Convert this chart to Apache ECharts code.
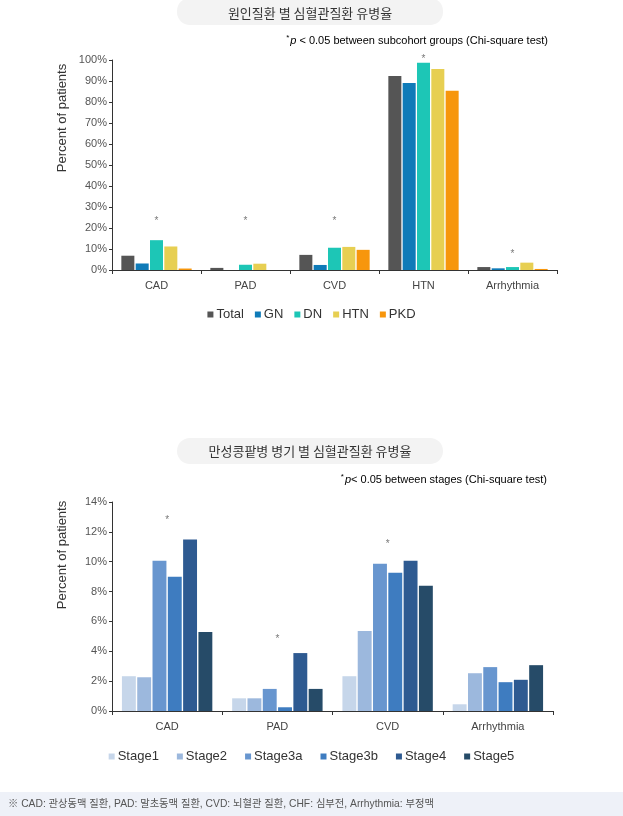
<!DOCTYPE html>
<html>
<head>
<meta charset="utf-8">
<script src="https://cdn.jsdelivr.net/npm/echarts@6/dist/echarts.min.js"></script>
<style>
html,body{margin:0;padding:0;background:#fff;}
#main{width:623px;height:816px;}
</style>
</head>
<body>
<div id="main"></div>
<script>
// ---- Data ----
var categoriesTop = ['CAD', 'PAD', 'CVD', 'HTN', 'Arrhythmia'];
var seriesNamesTop = ['Total', 'GN', 'DN', 'HTN', 'PKD'];
var totalVals = [6.8, 1.0, 7.2, 92.4, 1.4];
var gnVals    = [3.1, 0.0, 2.4, 89.0, 0.8];
var dnVals    = [14.2, 2.5, 10.6, 98.7, 1.4];
var htnVals   = [11.2, 3.0, 11.0, 95.7, 3.5];
var pkdVals   = [0.7, 0.0, 9.6, 85.4, 0.5];
var starsTop  = [24.8, 24.8, 24.8, 101.6, 8.7];
var yTicksTop = { min: 0, max: 100, interval: 10 };

var categoriesBot = ['CAD', 'PAD', 'CVD', 'Arrhythmia'];
var seriesNamesBot = ['Stage1', 'Stage2', 'Stage3a', 'Stage3b', 'Stage4', 'Stage5'];
var stage1Vals  = [2.33, 0.85, 2.33, 0.45];
var stage2Vals  = [2.26, 0.85, 5.36, 2.53];
var stage3aVals = [10.07, 1.48, 9.87, 2.94];
var stage3bVals = [8.99, 0.25, 9.26, 1.93];
var stage4Vals  = [11.48, 3.88, 10.07, 2.09];
var stage5Vals  = [5.29, 1.48, 8.39, 3.07];
var starsBot    = [13.0, 5.0, 11.4, '-'];
var yTicksBot = { min: 0, max: 14, interval: 2 };

// ---- Styles ----
var colorsTop = ['#555555', '#0f7bb8', '#1dc6b6', '#e7cf52', '#f7960c'];
var colorsBot = ['#c6d6ea', '#9cb8dd', '#6896cf', '#3e7cc0', '#2e5a91', '#264b68'];
var FONT = '"Liberation Sans", Arial, "Noto Sans CJK KR", sans-serif';
var KFONT = '"Noto Sans CJK KR", "Liberation Sans", sans-serif';

var topData = [totalVals, gnVals, dnVals, htnVals, pkdVals];
var botData = [stage1Vals, stage2Vals, stage3aVals, stage3bVals, stage4Vals, stage5Vals];

var starLabel = { show: true, position: 'inside', formatter: '*', color: '#555', fontSize: 10, fontFamily: FONT, offset: [0, 3] };

var series = [];
seriesNamesTop.forEach(function (n, i) {
  series.push({
    name: n, type: 'bar', xAxisIndex: 0, yAxisIndex: 0,
    data: topData[i], barGap: '10%', barCategoryGap: '21%',
    itemStyle: { color: colorsTop[i] }
  });
});
series.push({
  name: 'starsTop', type: 'scatter', xAxisIndex: 0, yAxisIndex: 0,
  data: starsTop, symbol: 'circle', symbolSize: 2, clip: false,
  itemStyle: { color: 'rgba(0,0,0,0)' },
  label: starLabel, z: 5, silent: true
});
seriesNamesBot.forEach(function (n, i) {
  series.push({
    name: n, type: 'bar', xAxisIndex: 1, yAxisIndex: 1,
    data: botData[i], barGap: '10%', barCategoryGap: '18%',
    itemStyle: { color: colorsBot[i] }
  });
});
series.push({
  name: 'starsBot', type: 'scatter', xAxisIndex: 1, yAxisIndex: 1,
  data: starsBot, symbol: 'circle', symbolSize: 2, clip: false,
  itemStyle: { color: 'rgba(0,0,0,0)' },
  label: starLabel, z: 5, silent: true
});

function xAxisCfg(cats, grid) {
  return {
    type: 'category', gridIndex: grid, data: cats,
    axisLine: { lineStyle: { color: '#333', width: 1 } },
    axisTick: { show: true, length: 4, lineStyle: { color: '#333' } },
    axisLabel: { color: '#444', fontSize: 11, margin: 10, fontFamily: FONT },
    splitLine: { show: false }
  };
}
function yAxisCfg(t, grid) {
  return {
    type: 'value', gridIndex: grid, min: t.min, max: t.max, interval: t.interval,
    axisLine: { show: true, lineStyle: { color: '#333', width: 1 } },
    axisTick: { show: true, length: 3, lineStyle: { color: '#333' } },
    axisLabel: { color: '#555', fontSize: 11, margin: 5, fontFamily: FONT, formatter: '{value}%' },
    splitLine: { show: false }
  };
}

var subRich = {
  s: { fontSize: 8, color: '#333', fontFamily: FONT, verticalAlign: 'top', padding: [0, 1, 6, 0] },
  i: { fontSize: 11, color: '#333', fontStyle: 'italic', fontFamily: FONT },
  t: { fontSize: 11, color: '#333', fontFamily: FONT }
};

var option = {
  backgroundColor: '#fff',
  animation: false,
  grid: [
    { left: 112, right: 66, top: 60, height: 210 },
    { left: 112, right: 70, top: 502, height: 209 }
  ],
  xAxis: [xAxisCfg(categoriesTop, 0), xAxisCfg(categoriesBot, 1)],
  yAxis: [yAxisCfg(yTicksTop, 0), yAxisCfg(yTicksBot, 1)],
  legend: [
    {
      data: seriesNamesTop, top: 303, left: 'center', icon: 'rect',
      itemWidth: 6, itemHeight: 6, itemGap: 11,
      textStyle: { fontSize: 13, color: '#333', fontFamily: FONT, padding: [0, 0, 0, -2] }
    },
    {
      data: seriesNamesBot, top: 745, left: 'center', icon: 'rect',
      itemWidth: 6, itemHeight: 6, itemGap: 18,
      textStyle: { fontSize: 13, color: '#333', fontFamily: FONT, padding: [0, 0, 0, -2] }
    }
  ],
  graphic: [
    { type: 'rect', shape: { x: 177, y: -2, width: 266, height: 27, r: 13 }, style: { fill: '#f3f3f3' }, silent: true },
    { type: 'text', x: 310, y: 13, style: { text: '원인질환 별 심혈관질환 유병율', fontSize: 13, fill: '#333', fontFamily: KFONT, align: 'center', verticalAlign: 'middle' } },
    { type: 'text', x: 548, y: 41, style: { text: '{s|*}{i|p}{t| < 0.05 between subcohort groups (Chi-square test)}', rich: subRich, align: 'right', verticalAlign: 'middle' } },
    { type: 'text', x: 62, y: 118, rotation: Math.PI / 2, style: { text: 'Percent of patients', fontSize: 13, fill: '#333', fontFamily: FONT, align: 'center', verticalAlign: 'middle' } },

    { type: 'rect', shape: { x: 177, y: 438, width: 266, height: 26, r: 13 }, style: { fill: '#f3f3f3' }, silent: true },
    { type: 'text', x: 310, y: 451, style: { text: '만성콩팥병 병기 별 심혈관질환 유병율', fontSize: 13, fill: '#333', fontFamily: KFONT, align: 'center', verticalAlign: 'middle' } },
    { type: 'text', x: 547, y: 480, style: { text: '{s|*}{i|p}{t|< 0.05 between stages (Chi-square test)}', rich: subRich, align: 'right', verticalAlign: 'middle' } },
    { type: 'text', x: 62, y: 555, rotation: Math.PI / 2, style: { text: 'Percent of patients', fontSize: 13, fill: '#333', fontFamily: FONT, align: 'center', verticalAlign: 'middle' } },

    { type: 'rect', shape: { x: 0, y: 792, width: 623, height: 24 }, style: { fill: '#eef1f8' }, silent: true },
    { type: 'text', x: 8, y: 804, style: { text: '※ CAD: 관상동맥 질환, PAD: 말초동맥 질환, CVD: 뇌혈관 질환, CHF: 심부전, Arrhythmia: 부정맥', fontSize: 10.3, fill: '#555', fontFamily: FONT, align: 'left', verticalAlign: 'middle' } }
  ],
  series: series
};

var chart = echarts.init(document.getElementById('main'), null, { renderer: 'canvas' });
chart.setOption(option);
</script>
</body>
</html>
